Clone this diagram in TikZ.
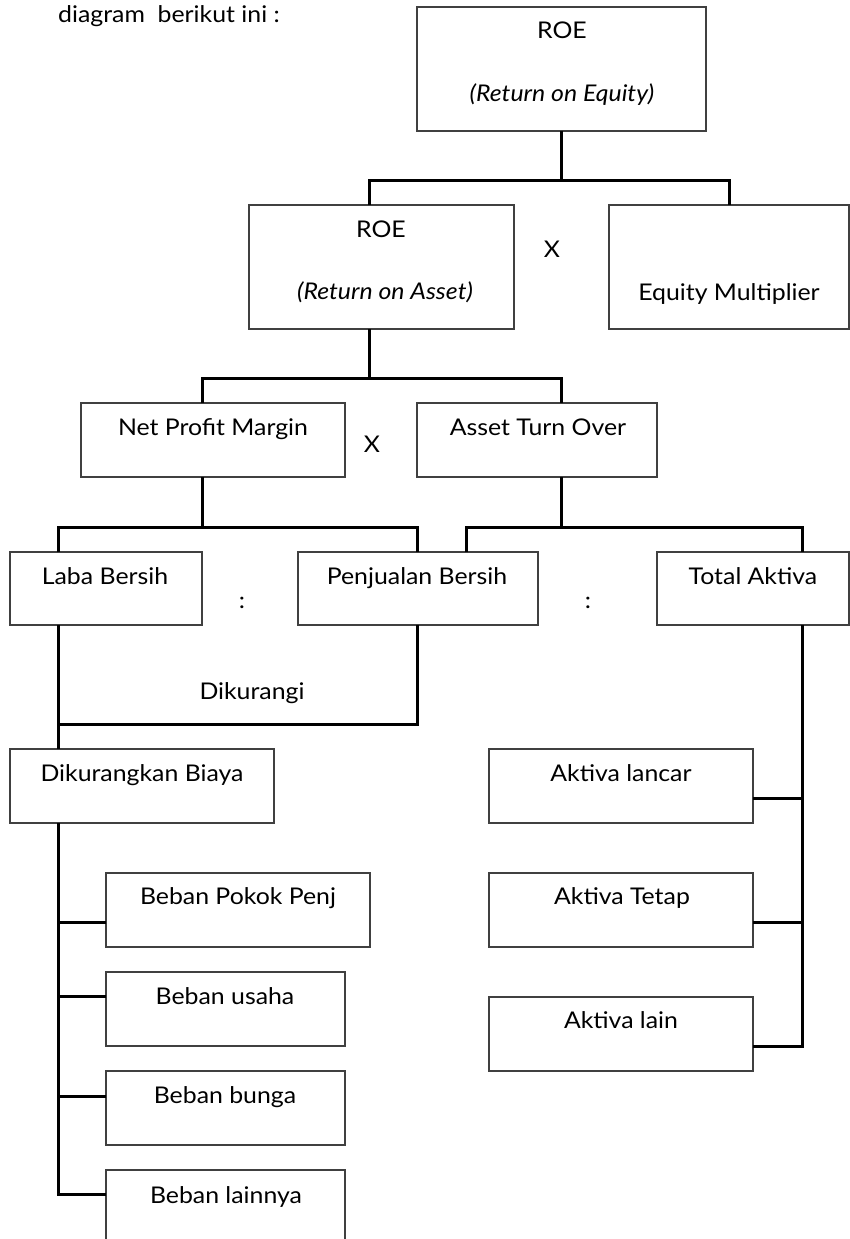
\documentclass[tikz,border=0pt]{standalone}
\usepackage{fontspec}
\setmainfont{Lato}[FakeStretch=1.08]
\usetikzlibrary{calc}
\begin{document}
\begin{tikzpicture}[x=1pt,y=-1pt,
  box/.style={draw=black!75,line width=1.2pt,inner sep=0pt,outer sep=0pt,anchor=north west},
  conn/.style={line width=3pt,black},
  txt/.style={inner sep=0pt,anchor=base,font=\fontsize{23}{28}\selectfont},
  itxt/.style={txt,font=\fontsize{23}{28}\selectfont\itshape}]
\useasboundingbox (0,0) rectangle (850,1239);
% boxes
\node[box,minimum width=289pt,minimum height=124pt] (roe) at (417,7) {};
\node[box,minimum width=265pt,minimum height=124pt] (roa) at (249,205) {};
\node[box,minimum width=240pt,minimum height=124pt] (em) at (609,205) {};
\node[box,minimum width=264pt,minimum height=74pt] (npm) at (81,403) {};
\node[box,minimum width=240pt,minimum height=74pt] (ato) at (417,403) {};
\node[box,minimum width=192pt,minimum height=73pt] (laba) at (10,552) {};
\node[box,minimum width=240pt,minimum height=73pt] (pen) at (298,552) {};
\node[box,minimum width=192pt,minimum height=73pt] (ta) at (657,552) {};
\node[box,minimum width=264pt,minimum height=74pt] (dkb) at (10,749) {};
\node[box,minimum width=264pt,minimum height=74pt] (al) at (489,749) {};
\node[box,minimum width=264pt,minimum height=74pt] (bpp) at (106,873) {};
\node[box,minimum width=264pt,minimum height=74pt] (at) at (489,873) {};
\node[box,minimum width=239pt,minimum height=74pt] (bu) at (106,972) {};
\node[box,minimum width=264pt,minimum height=74pt] (alain) at (489,997) {};
\node[box,minimum width=239pt,minimum height=74pt] (bb) at (106,1071) {};
\node[box,minimum width=239pt,minimum height=95pt] (bl) at (106,1170) {};
% connectors
\draw[conn] (roe.south) -- (roe.south |- 0,180);
\draw[conn] ($(roa.north west)+(120,0)$) |- (em.north |- 0,180) -- (em.north);
\draw[conn] ($(roa.south west)+(120,0)$) -- ++(0,49);
\draw[conn] ($(npm.north west)+(121,0)$) |- ($(ato.north west)+(144,-25)$) -- ($(ato.north west)+(144,0)$);
\draw[conn] ($(npm.south west)+(121,0)$) -- ++(0,50);
\draw[conn] ($(laba.north west)+(48,0)$) |- ($(pen.north west)+(119,-25)$) -- ($(pen.north west)+(119,0)$);
\draw[conn] ($(ato.south west)+(144,0)$) -- ++(0,50);
\draw[conn] ($(pen.north west)+(168,0)$) |- ($(ta.north west)+(145,-25)$) -- ($(ta.north west)+(145,0)$);
\draw[conn] ($(laba.south west)+(48,0)$) -- ($(dkb.north west)+(48,0)$);
\draw[conn] ($(pen.south west)+(119,0)$) |- ($(laba.south west)+(48,99)$);
\draw[conn] ($(dkb.south west)+(48,0)$) |- ($(bl.north west)+(0,24)$);
\draw[conn] ($(bpp.north west)+(0,49)$) -- ++(-48,0);
\draw[conn] ($(bu.north west)+(0,24)$) -- ++(-48,0);
\draw[conn] ($(bb.north west)+(0,25)$) -- ++(-48,0);
\draw[conn] ($(ta.south west)+(145,0)$) |- ($(alain.north east)+(0,49)$);
\draw[conn] ($(al.north east)+(0,49)$) -- ++(49,0);
\draw[conn] ($(at.north east)+(0,49)$) -- ++(49,0);
% texts
\node[txt,anchor=base west] (intro) at (58,23) {diagram\ \ berikut ini :};
\node[txt] (t1) at (562,39) {ROE};
\node[itxt] (t2) at (562,101) {(Return on Equity)};
\node[txt] (t3) at (381,237) {ROE};
\node[itxt] (t4) at (385,299) {(Return on Asset)};
\node[txt] (x1) at (552,257) {X};
\node[txt] (t5) at (729,300) {Equity Multiplier};
\node[txt] (t6) at (213,435) {Net Profit Margin};
\node[txt] (t7) at (538,435) {Asset Turn Over};
\node[txt] (x2) at (372,452) {X};
\node[txt] (t8) at (105,584) {Laba Bersih};
\node[txt] (t9) at (417,584) {Penjualan Bersih};
\node[txt] (t10) at (753,584) {Total Aktiva};
\node[txt] (c1) at (242,608) {:};
\node[txt] (c2) at (588,608) {:};
\node[txt] (t11) at (252,699) {Dikurangi};
\node[txt] (t12) at (142,781) {Dikurangkan Biaya};
\node[txt] (t13) at (621,781) {Aktiva lancar};
\node[txt] (t14) at (238,904) {Beban Pokok Penj};
\node[txt] (t15) at (622,904) {Aktiva Tetap};
\node[txt] (t16) at (225,1004) {Beban usaha};
\node[txt] (t17) at (621,1028) {Aktiva lain};
\node[txt] (t18) at (225,1103) {Beban bunga};
\node[txt] (t19) at (226,1203) {Beban lainnya};
\end{tikzpicture}
\end{document}
